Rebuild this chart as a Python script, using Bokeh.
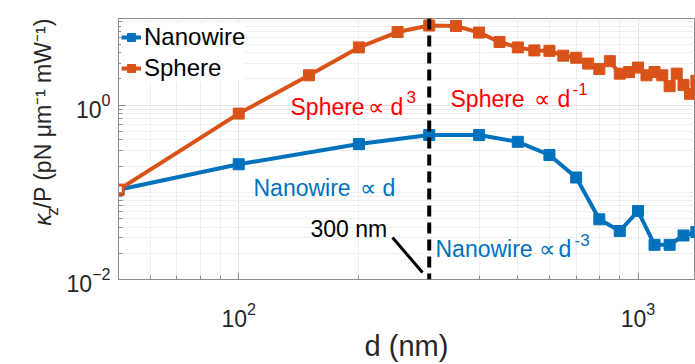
import math
from bokeh.plotting import figure
from bokeh.layouts import row
from bokeh.models import (FixedTicker, Label, Span, Arrow, Legend, LegendItem)
from bokeh.embed import file_html
from bokeh.resources import INLINE

# ---------------- data ----------------
nanowire_d = [50, 100, 200, 300, 400, 500, 600, 700, 800, 900, 1000, 1100, 1200, 1300, 1400]
nanowire_k = [0.107, 0.21, 0.358, 0.454, 0.454, 0.38, 0.268, 0.148, 0.049, 0.036,
              0.061, 0.025, 0.025, 0.032, 0.035]
sphere_d = [50, 100, 150, 200, 250, 300, 350, 400, 450, 500, 550, 600, 650, 700, 750,
            800, 850, 900, 950, 1000, 1050, 1100, 1150, 1200, 1250, 1300, 1350, 1400]
sphere_k = [0.107, 0.80, 2.2, 4.6, 6.9, 8.2, 8.1, 6.8, 5.3, 4.6, 4.25, 4.2, 3.7, 3.5, 3.0,
            2.6, 3.2, 2.3, 2.4, 2.7, 2.2, 2.4, 2.2, 1.65, 2.3, 1.7, 1.35, 1.9]
divide_d = 300
x_major = [100, 1000]
x_minor = [50, 60, 70, 80, 90, 200, 300, 400, 500, 600, 700, 800, 900]
y_major = [0.01, 1]
y_minor = [0.02, 0.03, 0.04, 0.05, 0.06, 0.07, 0.08, 0.09, 0.1,
           0.2, 0.3, 0.4, 0.5, 0.6, 0.7, 0.8, 0.9, 2, 3, 4, 5, 6, 7, 8, 9]

BLUE = "#0072BD"
ORANGE = "#D95319"
RED = "#FF0000"
FONT = "Liberation Sans"
TXT = "#262626"
LW = 62  # width of the strip holding the y-axis title

p = figure(width=695 - LW, height=364, x_axis_type="log", y_axis_type="log",
           x_range=(50, 1385), y_range=(0.01, 9.87),
           output_backend="svg", toolbar_location=None,
           min_border_left=118 - LW, min_border_right=1, min_border_top=18, min_border_bottom=84)
p.background_fill_color = "white"
p.border_fill_color = "white"
p.outline_line_color = "#8c8c8c"
p.outline_line_width = 1

# axes
p.xaxis.ticker = FixedTicker(ticks=x_major, minor_ticks=x_minor)
p.yaxis.ticker = FixedTicker(ticks=y_major, minor_ticks=y_minor)
for ax in (p.xaxis[0], p.yaxis[0]):
    ax.axis_line_color = "#8c8c8c"
    ax.major_tick_line_color = "#8c8c8c"
    ax.minor_tick_line_color = "#8c8c8c"
    ax.major_tick_in = 7
    ax.major_tick_out = 0
    ax.minor_tick_in = 4
    ax.minor_tick_out = 0
    ax.major_label_text_font = FONT
    ax.major_label_text_font_size = "23px"
    ax.major_label_text_color = TXT
p.xaxis.major_label_standoff = 22
p.yaxis.major_label_standoff = 8
p.xaxis.axis_label = "d (nm)"
p.xaxis.axis_label_text_font = FONT
p.xaxis.axis_label_text_font_size = "29px"
p.xaxis.axis_label_text_font_style = "normal"
p.xaxis.axis_label_text_color = TXT
p.xaxis.axis_label_standoff = 0

# grid
for g in (p.xgrid[0], p.ygrid[0]):
    g.grid_line_color = "#e3e3e3"
    g.minor_grid_line_color = "#efefef"
p.xgrid.ticker = p.xaxis.ticker
p.ygrid.ticker = p.yaxis.ticker

# data
nl = p.line(nanowire_d, nanowire_k, line_color=BLUE, line_width=4)
ns = p.scatter(nanowire_d, nanowire_k, marker="square", size=11, fill_color=BLUE, line_color=BLUE)
sl = p.line(sphere_d, sphere_k, line_color=ORANGE, line_width=4)
ss = p.scatter(sphere_d, sphere_k, marker="square", size=11, fill_color=ORANGE, line_color=ORANGE)
p.scatter(sphere_d[:1], sphere_k[:1], marker="square", size=9, fill_color="white",
          line_color=ORANGE, line_width=2.5)

p.add_layout(Span(location=divide_d, dimension="height", line_color="black",
                  line_width=4, line_dash="11 6"))

legend = Legend(items=[LegendItem(label="Nanowire", renderers=[nl, ns]),
                       LegendItem(label="Sphere", renderers=[sl, ss])],
                location=(3, 197), orientation="vertical")
legend.label_text_font = FONT
legend.label_text_font_size = "24px"
legend.label_text_color = "black"
legend.glyph_width = 20
legend.glyph_height = 20
legend.label_height = 26
legend.label_standoff = 3
legend.spacing = 3
legend.padding = 2
legend.margin = 0
legend.border_line_color = None
legend.background_fill_alpha = 1
p.add_layout(legend)


def lab(fig, x, y, text, color="black", size="23px", angle=0.0, style="normal", units="canvas"):
    fig.add_layout(Label(x=x, y=y, x_units=units, y_units=units, text=text,
                         text_color=color, text_font=FONT, text_font_size=size,
                         text_font_style=style, angle=angle,
                         text_align="left", text_baseline="alphabetic"))


# annotations (canvas pixels of the main figure)
o = LW
lab(p, 290 - o, 106, "Sphere", RED)
lab(p, 367 - o, 106, "\u221d", RED)
lab(p, 390 - o, 106, "d", RED)
lab(p, 406 - o, 96, "3", RED, "17px")
lab(p, 450 - o, 98, "Sphere", RED)
lab(p, 533 - o, 98, "\u221d", RED)
lab(p, 557 - o, 98, "d", RED)
lab(p, 572 - o, 88, "-1", RED, "17px")
lab(p, 253 - o, 187, "Nanowire", BLUE)
lab(p, 359 - o, 187, "\u221d", BLUE)
lab(p, 382 - o, 187, "d", BLUE)
lab(p, 435 - o, 248, "Nanowire", BLUE)
lab(p, 538 - o, 248, "\u221d", BLUE)
lab(p, 558 - o, 248, "d", BLUE)
lab(p, 574 - o, 239, "-3", BLUE, "17px")
lab(p, 310 - o, 228, "300 nm", "black")
p.add_layout(Arrow(x_start=392 - o, y_start=237, x_end=422 - o, y_end=272,
                   start_units="canvas", end_units="canvas", end=None, start=None,
                   line_color="black", line_width=3))

# ---- strip holding the y-axis title (rotated) ----
q = figure(width=LW, height=364, x_range=(0, LW), y_range=(364, 0),
           x_axis_location=None, y_axis_location=None,
           output_backend="svg", toolbar_location=None, min_border=0)
q.outline_line_color = None
q.grid.visible = False
q.background_fill_color = "white"
q.border_fill_color = "white"

A = math.pi / 2
lab(q, 42, 289, "\u03ba", TXT, "24px", A, "italic", "data")
lab(q, 52, 275, "z", TXT, "17px", A, "normal", "data")
lab(q, 42, 265, "/P (pN \u03bcm\u207b\u00b9 mW\u207b\u00b9)", TXT, "23px", A, "normal", "data")

layout = row(q, p, spacing=0)
open("out.html", "w").write(file_html(layout, INLINE))
